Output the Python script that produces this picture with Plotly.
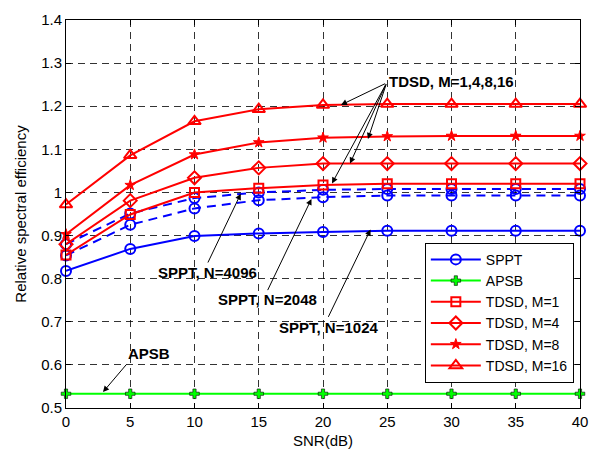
import plotly.graph_objects as go

snr = [0, 5, 10, 15, 20, 25, 30, 35, 40]
sppt_1024 = [0.818, 0.869, 0.899, 0.905, 0.908, 0.911, 0.911, 0.911, 0.911]
sppt_2048 = [0.854, 0.925, 0.963, 0.982, 0.989, 0.993, 0.993, 0.993, 0.993]
sppt_4096 = [0.880, 0.951, 0.987, 1.000, 1.006, 1.008, 1.008, 1.008, 1.008]
apsb = [0.533] * 9
tdsd_m1 = [0.855, 0.949, 1.000, 1.010, 1.017, 1.020, 1.020, 1.020, 1.020]
tdsd_m4 = [0.880, 0.981, 1.034, 1.057, 1.067, 1.067, 1.067, 1.067, 1.067]
tdsd_m8 = [0.903, 1.017, 1.088, 1.116, 1.127, 1.130, 1.131, 1.131, 1.131]
tdsd_m16 = [0.972, 1.086, 1.165, 1.193, 1.203, 1.205, 1.205, 1.205, 1.205]

BLUE = "rgb(0,0,255)"
RED = "rgb(255,0,0)"
GREEN = "rgb(0,255,0)"
FONT = "Liberation Sans, Arial, sans-serif"
FS = 15

fig = go.Figure()

def add(y, name, color, symbol, dash="solid", show=True, msize=10, mlw=2):
    fig.add_trace(go.Scatter(
        x=snr, y=y, name=name, mode="lines+markers",
        line=dict(color=color, width=2, dash=dash),
        marker=dict(symbol=symbol, size=msize, color=color,
                    line=dict(color=color, width=mlw)),
        showlegend=show, cliponaxis=False))

add(sppt_1024, "SPPT", BLUE, "circle-open")
add(sppt_2048, "SPPT, N=2048", BLUE, "circle-open", dash="9px,6px", show=False)
add(sppt_4096, "SPPT, N=4096", BLUE, "circle-open", dash="9px,6px", show=False)
fig.add_trace(go.Scatter(
    x=snr, y=apsb, name="APSB", mode="lines+markers",
    line=dict(color=GREEN, width=2),
    marker=dict(symbol="cross", size=8, color=GREEN, line=dict(color="black", width=0.6)),
    cliponaxis=False))
add(tdsd_m1, "TDSD, M=1", RED, "square-open", msize=9)
add(tdsd_m4, "TDSD, M=4", RED, "diamond-open", msize=10)
add(tdsd_m8, "TDSD, M=8", RED, "star", msize=8, mlw=1)
add(tdsd_m16, "TDSD, M=16", RED, "triangle-up-open", msize=11)

annotations = []

def label(x, y, text, xanchor="center"):
    annotations.append(dict(x=x, y=y, xref="x", yref="y", text="<b>%s</b>" % text,
                            showarrow=False, xanchor=xanchor, yanchor="middle",
                            font=dict(family=FONT, size=FS, color="black")))

def arrow(hx, hy, tx, ty):
    annotations.append(dict(x=hx, y=hy, xref="x", yref="y", ax=tx, ay=ty,
                            axref="x", ayref="y", text="", showarrow=True,
                            arrowhead=2, arrowsize=1.2, arrowwidth=1, arrowcolor="black"))

label(24.95, 1.257, "TDSD, M=1,4,8,16", xanchor="left")
arrow(21.4, 1.203, 24.95, 1.254)
arrow(23.5, 1.124, 24.95, 1.254)
arrow(22.1, 1.067, 24.95, 1.254)
arrow(20.7, 1.021, 24.95, 1.254)

label(10.98, 0.815, "SPPT, N=4096")
arrow(13.6, 0.997, 10.99, 0.834)
label(15.68, 0.751, "SPPT, N=2048")
arrow(19.1, 0.985, 15.64, 0.770)
label(20.42, 0.687, "SPPT, N=1024")
arrow(23.7, 0.914, 20.36, 0.708)
label(6.45, 0.626, "APSB")
arrow(2.88, 0.537, 4.79, 0.604)

# x-axis title placed as paper text so it stays inside the canvas
annotations.append(dict(x=0.5, y=-0.084, xref="paper", yref="paper", text="SNR(dB)",
                        showarrow=False, xanchor="center", yanchor="middle",
                        font=dict(family=FONT, size=FS, color="black")))

axis_common = dict(
    showline=True, linecolor="black", linewidth=1, mirror="ticks",
    ticks="inside", ticklen=5, tickcolor="black",
    showgrid=True, gridcolor="rgba(0,0,0,0.8)", gridwidth=1, griddash="7px,5px",
    zeroline=False, tickfont=dict(family=FONT, size=FS, color="black"),
)

fig.update_layout(
    width=599, height=449,
    margin=dict(l=66, r=11, t=15, b=41),
    paper_bgcolor="white", plot_bgcolor="white",
    font=dict(family=FONT, size=FS, color="black"),
    xaxis=dict(range=[0, 40], tickvals=[0, 5, 10, 15, 20, 25, 30, 35, 40],
               **axis_common),
    yaxis=dict(range=[0.5, 1.4], tickvals=[0.5, 0.6, 0.7, 0.8, 0.9, 1.0, 1.1, 1.2, 1.3, 1.4],
               ticktext=["0.5", "0.6", "0.7", "0.8", "0.9", "1", "1.1", "1.2", "1.3", "1.4"],
               title=dict(text="Relative spectral efficiency", standoff=10, font=dict(family=FONT, size=FS)),
               **axis_common),
    legend=dict(x=0.988, y=0.065, xanchor="right", yanchor="bottom",
                bgcolor="white", bordercolor="black", borderwidth=1,
                font=dict(family=FONT, size=14, color="black"),
                itemwidth=50, tracegroupgap=0),
    annotations=annotations,
)

fig.write_html("out.html", config={"displayModeBar": False},
               post_script="document.body.style.margin='0';document.body.style.padding='0';")
